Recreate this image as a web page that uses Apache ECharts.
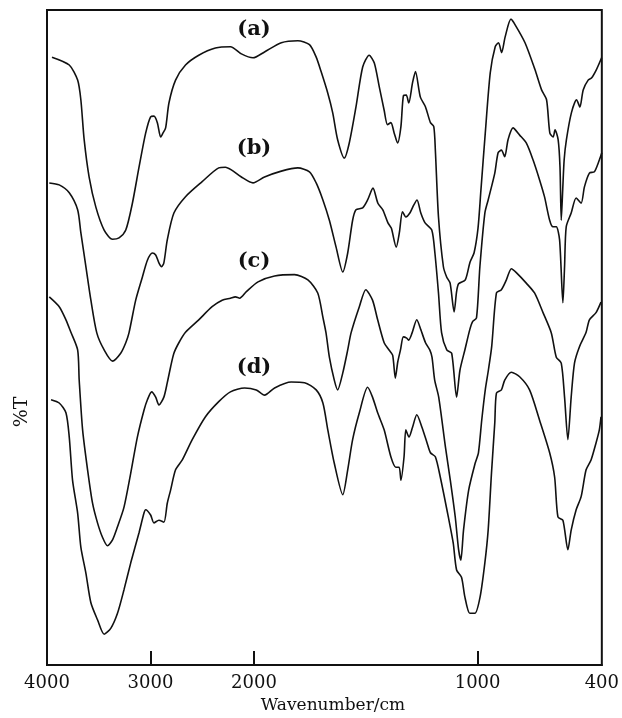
<!DOCTYPE html>
<html>
<head>
<meta charset="utf-8">
<script src="https://cdn.jsdelivr.net/npm/echarts@6/dist/echarts.min.js"></script>
<style>
  html, body { margin: 0; padding: 0; background: #fff; }
  #main { width: 622px; height: 718px; }
</style>
</head>
<body>
<div id="main"></div>
<script>
// wavenumber ticks (cm-1) and curve labels
const tickLabels = [4000, 3000, 2000, 1000, 400];
const tickMarks = [3000, 2000, 1000];
const curveNames = ['(a)', '(b)', '(c)', '(d)'];

// spectra: [wavenumber, %T]
const specA = [
  [3952,92.8],[3785,91.6],[3704,89.3],[3673,86.3],[3641,80.2],[3593,74.5],[3528,69.9],[3448,66.4],
  [3367,65.0],[3304,65.2],[3239,66.4],[3175,70.5],[3111,76.0],[3047,81.2],[2999,83.7],[2967,83.8],
  [2934,82.8],[2902,80.6],[2880,81.2],[2854,82.0],[2822,85.8],[2758,89.3],[2662,91.6],[2534,93.1],
  [2373,94.2],[2228,94.4],[2122,93.3],[2010,92.7],[1953,93.6],[1878,95.0],[1804,95.3],[1752,94.7],
  [1722,92.8],[1700,90.6],[1670,87.3],[1648,84.3],[1626,80.2],[1596,77.4],[1574,79.7],[1544,85.2],
  [1514,91.3],[1485,93.1],[1462,91.9],[1440,88.3],[1418,84.7],[1403,82.5],[1388,82.8],[1373,81.2],
  [1358,79.7],[1343,82.2],[1332,86.9],[1319,87.0],[1308,85.8],[1291,88.9],[1278,90.6],[1256,86.7],
  [1233,85.2],[1211,82.8],[1196,82.2],[1189,78.6],[1175,68.4],[1153,60.8],[1138,59.2],[1123,58.3],
  [1105,53.9],[1094,57.0],[1085,58.2],[1055,58.8],[1034,61.5],[1016,62.9],[998,66.7],[984,72.5],
  [963,81.2],[939,90.4],[915,94.4],[899,95.0],[884,93.5],[867,95.9],[839,98.6],[818,97.7],
  [771,95.0],[723,90.9],[691,87.8],[667,86.3],[651,81.2],[635,80.6],[626,81.7],[611,80.2],
  [602,76.0],[596,67.9],[589,72.5],[582,77.1],[571,80.2],[547,84.3],[522,86.3],[506,85.2],
  [490,87.8],[466,89.3],[450,89.6],[426,90.9],[401,92.7]
];
const specB = [
  [3978,73.6],[3882,73.3],[3785,72.1],[3704,69.5],[3673,66.0],[3624,60.8],[3576,55.7],[3519,50.7],
  [3448,48.1],[3367,46.4],[3288,47.6],[3239,49.2],[3208,50.7],[3143,55.7],[3079,59.2],[3030,61.8],
  [2982,62.9],[2950,62.6],[2919,61.4],[2893,60.8],[2871,61.4],[2838,64.9],[2774,69.0],[2662,71.5],
  [2501,73.8],[2341,75.9],[2277,76.0],[2219,75.6],[2122,74.5],[2010,73.6],[1953,74.5],[1878,75.4],
  [1804,75.9],[1752,75.3],[1722,73.6],[1692,71.0],[1663,67.9],[1633,63.8],[1603,60.0],[1581,62.9],
  [1559,67.9],[1544,69.5],[1514,69.8],[1492,71.0],[1468,72.8],[1446,70.5],[1424,69.5],[1401,67.5],
  [1386,66.7],[1364,63.8],[1350,66.0],[1336,69.2],[1321,68.4],[1303,69.0],[1286,70.2],[1271,71.0],
  [1254,69.0],[1235,67.5],[1205,66.4],[1191,62.9],[1175,56.8],[1161,50.7],[1138,48.1],[1116,47.6],
  [1094,40.9],[1079,45.0],[1057,48.1],[1035,51.2],[1023,52.4],[1005,53.0],[989,60.8],[965,69.0],
  [949,71.0],[917,75.1],[901,78.2],[885,78.6],[869,77.6],[853,80.2],[829,82.0],[797,80.9],
  [765,79.7],[732,77.1],[701,74.1],[677,71.5],[652,67.9],[636,66.9],[620,66.9],[604,64.9],
  [588,55.3],[580,60.8],[572,66.9],[548,69.0],[524,71.3],[500,70.5],[484,73.0],[460,75.1],
  [436,75.3],[412,77.1],[400,78.2]
];
const specC = [
  [3978,56.2],[3882,54.7],[3817,52.7],[3769,50.8],[3704,48.1],[3689,43.5],[3656,35.9],[3608,29.8],
  [3560,24.7],[3512,21.7],[3464,19.5],[3416,18.2],[3367,19.1],[3319,21.1],[3256,24.1],[3191,29.3],
  [3127,34.8],[3063,38.9],[3030,40.5],[2989,41.7],[2950,40.9],[2919,39.7],[2871,40.9],[2838,43.1],
  [2806,45.5],[2774,47.6],[2726,49.2],[2662,50.8],[2534,52.7],[2405,54.7],[2308,55.7],[2228,56.0],
  [2180,56.2],[2139,56.0],[2074,57.0],[1982,58.5],[1908,59.4],[1819,59.6],[1759,58.8],[1715,56.8],
  [1692,53.1],[1678,50.7],[1663,47.0],[1641,43.5],[1626,42.0],[1603,44.6],[1581,48.1],[1566,50.7],
  [1529,54.7],[1500,57.3],[1470,55.7],[1447,52.7],[1418,49.2],[1396,48.1],[1380,47.3],[1368,43.8],
  [1357,46.3],[1345,48.1],[1332,50.1],[1317,49.9],[1308,49.6],[1293,50.7],[1272,52.7],[1254,51.2],
  [1233,49.2],[1214,48.1],[1204,47.0],[1192,43.5],[1174,40.9],[1144,33.3],[1122,28.2],[1100,22.6],
  [1085,17.6],[1075,16.0],[1063,20.6],[1040,26.7],[1011,30.8],[996,32.4],[980,37.4],[963,42.0],
  [948,45.0],[932,48.6],[909,56.8],[885,57.3],[861,58.8],[837,60.5],[813,59.9],[765,58.3],
  [725,56.8],[684,53.8],[644,50.7],[620,47.0],[596,46.1],[580,40.9],[564,34.4],[548,40.9],
  [532,46.1],[508,48.6],[476,50.8],[460,52.7],[428,53.8],[404,55.4]
];
const specD = [
  [3961,40.5],[3882,40.0],[3817,38.5],[3785,34.8],[3753,28.2],[3704,23.2],[3673,18.0],[3624,14.0],
  [3576,9.5],[3512,6.9],[3448,4.7],[3384,5.6],[3319,7.9],[3256,11.5],[3191,15.6],[3111,20.2],
  [3063,23.2],[3047,23.7],[2999,22.9],[2967,21.7],[2919,22.1],[2871,21.8],[2838,24.7],[2806,26.7],
  [2758,29.8],[2693,31.3],[2597,34.4],[2469,37.9],[2341,40.2],[2228,41.7],[2091,42.3],[1990,42.0],
  [1953,41.2],[1908,42.3],[1834,43.2],[1774,43.1],[1722,42.0],[1692,40.0],[1670,35.9],[1641,30.8],
  [1603,26.0],[1581,29.8],[1559,34.4],[1529,38.5],[1492,42.4],[1470,40.9],[1447,38.5],[1418,35.9],
  [1388,31.8],[1366,30.2],[1351,30.2],[1343,28.2],[1329,31.8],[1321,35.9],[1307,34.8],[1291,36.3],
  [1272,38.2],[1249,36.3],[1226,33.9],[1211,32.4],[1189,31.8],[1167,28.7],[1131,22.6],[1109,18.6],
  [1094,14.5],[1072,13.4],[1057,10.4],[1035,7.9],[1012,7.9],[988,10.4],[965,15.6],[949,20.6],
  [933,29.3],[917,37.0],[909,41.5],[885,42.0],[869,43.5],[837,44.7],[797,44.0],[749,42.0],
  [701,37.4],[652,32.4],[628,28.7],[612,22.6],[588,22.1],[564,17.6],[548,20.6],[524,23.7],
  [500,25.7],[476,29.8],[452,31.3],[428,33.9],[412,35.9],[404,37.9]
];

// the x scale is stretched below 2000 cm-1, as on the original instrument chart
const segments = [[4000, 2000, 1], [2000, 1000, 2.16], [1000, 400, 2.0]];
function toAxis(w) {
  let t = 0;
  for (const [hi, lo, k] of segments) {
    if (w >= lo) return t + (hi - w) * k;
    t += (hi - lo) * k;
  }
  return t;
}
const axisMax = toAxis(400);

const chart = echarts.init(document.getElementById('main'), null, { renderer: 'canvas' });
const serif = 'DejaVu Serif';

const labelPos = tickLabels.map(toAxis);

function makeSeries(data) {
  return {
    type: 'line',
    data: data.map(p => [toAxis(p[0]), p[1]]),
    showSymbol: false,
    smooth: 0.25,
    lineStyle: { color: '#111', width: 1.6 },
    silent: true,
    animation: false
  };
}

function tag(text, x, y) {
  return {
    type: 'text', x: x, y: y,
    style: { text: text, font: 'bold 21px "DejaVu Serif"', fill: '#111', align: 'center', verticalAlign: 'middle' }
  };
}

const option = {
  backgroundColor: '#fff',
  animation: false,
  grid: {
    left: 47, right: 18, top: 10, bottom: 53,
    show: true, borderColor: '#111', borderWidth: 2
  },
  xAxis: {
    type: 'value',
    min: 0,
    max: axisMax,
    axisLine: { show: true, lineStyle: { color: '#111', width: 2 } },
    axisTick: {
      show: true, inside: true, length: 14,
      customValues: tickMarks.map(toAxis),
      lineStyle: { color: '#111', width: 2 }
    },
    axisLabel: {
      customValues: labelPos,
      margin: 9,
      fontFamily: serif,
      fontSize: 18,
      color: '#111',
      formatter: v => {
        let best = 0;
        labelPos.forEach((p, i) => { if (Math.abs(p - v) < Math.abs(labelPos[best] - v)) best = i; });
        return String(tickLabels[best]);
      }
    },
    splitLine: { show: false }
  },
  yAxis: {
    type: 'value',
    min: 0,
    max: 100,
    axisLine: { show: true, lineStyle: { color: '#111', width: 2 } },
    axisTick: { show: false },
    axisLabel: { show: false },
    splitLine: { show: false }
  },
  series: [makeSeries(specA), makeSeries(specB), makeSeries(specC), makeSeries(specD)],
  graphic: [
    {
      type: 'text', x: 22, y: 412, rotation: Math.PI / 2,
      style: { text: '%T', font: '19px "DejaVu Serif"', fill: '#111', align: 'center', verticalAlign: 'middle' }
    },
    {
      type: 'text', x: 333, y: 706,
      style: { text: 'Wavenumber/cm', font: '17px "DejaVu Serif"', fill: '#111', align: 'center', verticalAlign: 'middle' }
    },
    tag(curveNames[0], 254, 30),
    tag(curveNames[1], 254, 149),
    tag(curveNames[2], 254, 262),
    tag(curveNames[3], 254, 368)
  ]
};

chart.setOption(option);
</script>
</body>
</html>
